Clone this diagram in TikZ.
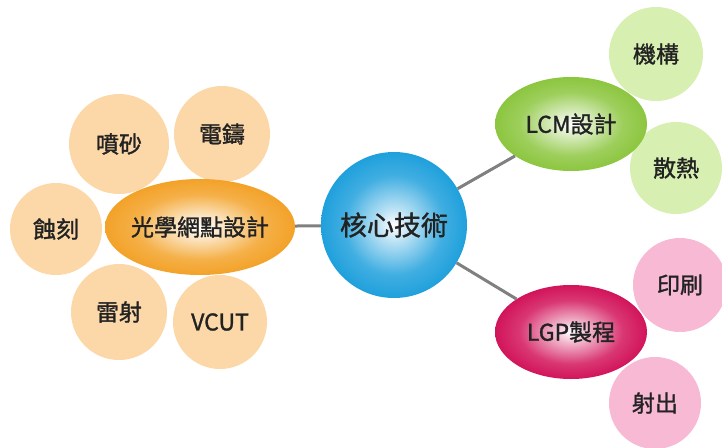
\documentclass[tikz,border=0pt]{standalone}
\usepackage{fontspec}
\setmainfont{Noto Sans CJK TC}[FakeBold=1.3]
\usetikzlibrary{shapes.geometric}
\definecolor{peach}{HTML}{FCD8A8}
\definecolor{lgreen}{HTML}{D8EFB2}
\definecolor{lpink}{HTML}{F7B9D4}
\definecolor{corange}{HTML}{F3A228}
\definecolor{cblue}{HTML}{1FA0DC}
\definecolor{cgreen}{HTML}{8CC63F}
\definecolor{cpink}{HTML}{D2145A}
\definecolor{txt}{HTML}{222222}
\definecolor{conn}{HTML}{808080}
\pgfdeclareradialshading{orangeball}{\pgfpoint{0bp}{0bp}}{color(0bp)=(white); color(6bp)=(white!72!corange); color(17bp)=(corange!85!white); color(25bp)=(corange); color(50bp)=(corange)}
\pgfdeclareradialshading{blueball}{\pgfpoint{0bp}{0bp}}{color(0bp)=(white); color(6bp)=(white!68!cblue); color(17bp)=(cblue!85!white); color(25bp)=(cblue); color(50bp)=(cblue)}
\pgfdeclareradialshading{greenball}{\pgfpoint{0bp}{0bp}}{color(0bp)=(white); color(6bp)=(white!68!cgreen); color(17bp)=(cgreen!85!white); color(25bp)=(cgreen); color(50bp)=(cgreen)}
\pgfdeclareradialshading{pinkball}{\pgfpoint{0bp}{0bp}}{color(0bp)=(white); color(6bp)=(white!68!cpink); color(17bp)=(cpink!85!white); color(25bp)=(cpink); color(50bp)=(cpink)}
\tikzset{
  leaf/.style={circle, inner sep=0pt, draw=none, text=txt, font=\fontsize{23}{25}\selectfont},
  peachleaf/.style={leaf, fill=peach},
  greenleaf/.style={leaf, fill=lgreen},
  pinkleaf/.style={leaf, fill=lpink},
  branch/.style={ellipse, inner sep=0pt, draw=none, minimum width=152pt, minimum height=94pt},
  btext/.style={text=txt, font=\fontsize{23}{25}\selectfont},
  conline/.style={draw=conn, line width=3pt}
}
\begin{document}
\begin{tikzpicture}[x=1pt,y=-1pt]
\useasboundingbox[fill=white] (0,0) rectangle (722,447);
% leaves
\node[peachleaf, minimum size=100pt] (pensha) at (119,144) {噴砂};
\node[peachleaf, minimum size=96pt] (dianzhu) at (222,134) {電鑄};
\node[peachleaf, minimum size=92pt] (shike) at (56,229) {蝕刻};
\node[peachleaf, minimum size=96pt] (leishe) at (119,312) {雷射};
\node[peachleaf, minimum size=94pt] (vcut) at (220,322) {VCUT};
\node[greenleaf, minimum size=94pt] (jigou) at (656,54) {機構};
\node[greenleaf, minimum size=92pt] (sanre) at (676,168) {散熱};
\node[pinkleaf, minimum size=94pt] (yinshua) at (680,285) {印刷};
\node[pinkleaf, minimum size=92pt] (shechu) at (655,403) {射出};
% branches
\node[branch, shading=orangeball, minimum width=190pt, minimum height=96pt] (optic) at (200,227) {};
\node[btext] (optict) at (optic.center) {光學網點設計};
\node[branch, shading=greenball] (lcm) at (571,124) {};
\node[btext] (lcmt) at (lcm.center) {LCM設計};
\node[branch, shading=pinkball] (lgp) at (571,332) {};
\node[btext] (lgpt) at (lgp.center) {LGP製程};
% core
\node[circle, inner sep=0pt, shading=blueball, minimum size=146pt, text=txt, font=\fontsize{27}{29}\selectfont] (core) at (394,225) {核心技術};
% connectors
\draw[conline] (optic) -- (core);
\draw[conline] (core) -- (lcm);
\draw[conline] (core) -- (lgp);
\end{tikzpicture}
\end{document}
